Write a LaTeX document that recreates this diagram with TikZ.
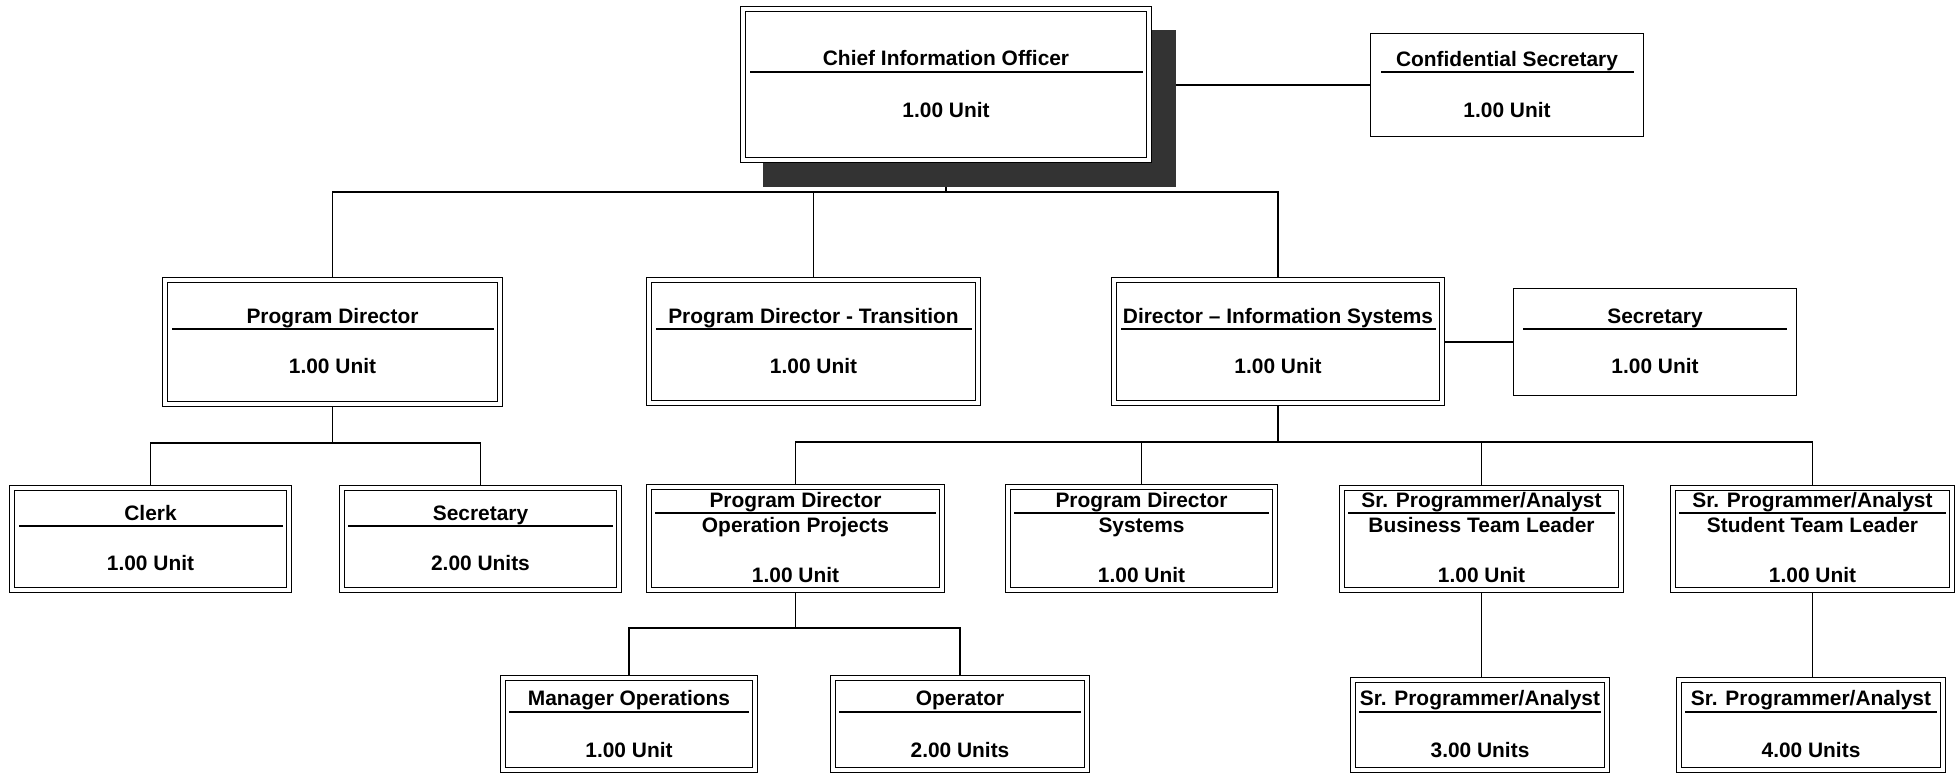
\documentclass[tikz,border=0pt]{standalone}
\usepackage{fontspec}
\setmainfont{Liberation Sans}
\usetikzlibrary{backgrounds}

\tikzset{
  dbox/.style={draw, double, double distance=2pt, line width=0.7pt, fill=white, inner sep=0pt},
  sbox/.style={draw, line width=0.8pt, fill=white, inner sep=0pt},
  txt/.style={anchor=base, inner sep=0pt, font=\fontsize{11.9}{14}\selectfont\bfseries},
  rulel/.style={line width=0.6pt},
  link/.style={line width=0.7pt},
  shade/.style={fill=black!80},
}

\begin{document}
\begin{tikzpicture}[x=0.02cm, y=-0.02cm]
        \useasboundingbox (0,0) rectangle (1960,775);

        % top row
        \node[dbox, minimum width=8.12cm, minimum height=3.02cm] (cio) at (946,84.5) {};
        \node[txt] (cio-t) at (946,65) {Chief Information Officer};
        \draw[rulel] (750,72) -- (1143,72);
        \node[txt] (cio-u) at (946,117) {1.00 Unit};

        \node[sbox, minimum width=5.46cm, minimum height=2.06cm] (conf) at (1507,85) {};
        \node[txt] (conf-t) at (1507,66) {Confidential Secretary};
        \draw[rulel] (1381,72) -- (1634,72);
        \node[txt] (conf-u) at (1507,117) {1.00 Unit};

        % second row
        \node[dbox, minimum width=6.70cm, minimum height=2.48cm] (pd) at (332.5,342) {};
        \node[txt] (pd-t) at (332.5,323) {Program Director};
        \draw[rulel] (172,329) -- (494,329);
        \node[txt] (pd-u) at (332.5,373) {1.00 Unit};

        \node[dbox, minimum width=6.58cm, minimum height=2.46cm] (pdt) at (813.5,341.5) {};
        \node[txt] (pdt-t) at (813.5,323) {Program Director - Transition};
        \draw[rulel] (656,329) -- (972,329);
        \node[txt] (pdt-u) at (813.5,373) {1.00 Unit};

        \node[dbox, minimum width=6.56cm, minimum height=2.46cm] (dis) at (1278,341.5) {};
        \node[txt] (dis-t) at (1278,323) {Director – Information Systems};
        \draw[rulel] (1121,329) -- (1436,329);
        \node[txt] (dis-u) at (1278,373) {1.00 Unit};

        \node[sbox, minimum width=5.66cm, minimum height=2.14cm] (sec) at (1655,342) {};
        \node[txt] (sec-t) at (1655,323) {Secretary};
        \draw[rulel] (1523,329) -- (1787,329);
        \node[txt] (sec-u) at (1655,373) {1.00 Unit};

        % third row
        \node[dbox, minimum width=5.54cm, minimum height=2.04cm] (clerk) at (150.5,539) {};
        \node[txt] (clerk-t) at (150.5,520) {Clerk};
        \draw[rulel] (19,526) -- (283,526);
        \node[txt] (clerk-u) at (150.5,570) {1.00 Unit};

        \node[dbox, minimum width=5.54cm, minimum height=2.04cm] (sec2) at (480.5,539) {};
        \node[txt] (sec2-t) at (480.5,520) {Secretary};
        \draw[rulel] (348,526) -- (613,526);
        \node[txt] (sec2-u) at (480.5,570) {2.00 Units};

        \node[dbox, minimum width=5.86cm, minimum height=2.06cm] (pdop) at (795.5,538.5) {};
        \node[txt] (pdop-t) at (795.5,507) {Program Director};
        \draw[rulel] (655,513) -- (936,513);
        \node[txt] (pdop-s) at (795.5,532) {Operation Projects};
        \node[txt] (pdop-u) at (795.5,582) {1.00 Unit};

        \node[dbox, minimum width=5.34cm, minimum height=2.06cm] (pds) at (1141.5,538.5) {};
        \node[txt] (pds-t) at (1141.5,507) {Program Director};
        \draw[rulel] (1014,513) -- (1269,513);
        \node[txt] (pds-s) at (1141.5,532) {Systems};
        \node[txt] (pds-u) at (1141.5,582) {1.00 Unit};

        \node[dbox, minimum width=5.58cm, minimum height=2.04cm] (spab) at (1481.5,539) {};
        \node[txt] (spab-t) at (1481.5,507) {Sr. Programmer/Analyst};
        \draw[rulel] (1348,513) -- (1615,513);
        \node[txt] (spab-s) at (1481.5,532) {Business Team Leader};
        \node[txt] (spab-u) at (1481.5,582) {1.00 Unit};

        \node[dbox, minimum width=5.58cm, minimum height=2.04cm] (spas) at (1812.5,539) {};
        \node[txt] (spas-t) at (1812.5,507) {Sr. Programmer/Analyst};
        \draw[rulel] (1679,513) -- (1946,513);
        \node[txt] (spas-s) at (1812.5,532) {Student Team Leader};
        \node[txt] (spas-u) at (1812.5,582) {1.00 Unit};

        % bottom row
        \node[dbox, minimum width=5.04cm, minimum height=1.84cm] (mo) at (629,724) {};
        \node[txt] (mo-t) at (629,705) {Manager Operations};
        \draw[rulel] (509,712) -- (749,712);
        \node[txt] (mo-u) at (629,757) {1.00 Unit};

        \node[dbox, minimum width=5.08cm, minimum height=1.84cm] (op) at (960,724) {};
        \node[txt] (op-t) at (960,705) {Operator};
        \draw[rulel] (839,712) -- (1081,712);
        \node[txt] (op-u) at (960,757) {2.00 Units};

        \node[dbox, minimum width=5.08cm, minimum height=1.80cm] (spa3) at (1480,725) {};
        \node[txt] (spa3-t) at (1480,705) {Sr. Programmer/Analyst};
        \draw[rulel] (1359,712) -- (1601,712);
        \node[txt] (spa3-u) at (1480,757) {3.00 Units};

        \node[dbox, minimum width=5.28cm, minimum height=1.80cm] (spa4) at (1811,725) {};
        \node[txt] (spa4-t) at (1811,705) {Sr. Programmer/Analyst};
        \draw[rulel] (1685,712) -- (1937,712);
        \node[txt] (spa4-u) at (1811,757) {4.00 Units};

        \begin{scope}[on background layer]
        \coordinate (cbus) at (947,192);
        \coordinate (pdbus) at (332.5,443);
        \coordinate (disbus) at (1278,442);
        \coordinate (opbus) at (795.5,628);

        \draw[link] (cio.east |- conf.west) -- (conf.west);
        \draw[link] (cio.south) -- (cio.south |- cbus);
        \draw[link] (pd.north) |- (cbus) -| (dis.north);
        \draw[link] (pdt.north) -- (pdt.north |- cbus);

        \draw[link] (dis.east |- sec.west) -- (sec.west);
        \draw[link] (pd.south) -- (pdbus);
        \draw[link] (clerk.north) |- (pdbus) -| (sec2.north);

        \draw[link] (dis.south) -- (disbus);
        \draw[link] (pdop.north) |- (disbus) -| (spas.north);
        \draw[link] (pds.north) -- (pds.north |- disbus);
        \draw[link] (spab.north) -- (spab.north |- disbus);

        \draw[link] (pdop.south) -- (opbus);
        \draw[link] (mo.north) |- (opbus) -| (op.north);
        \draw[link] (spab.south) -- (spab.south |- spa3.north);
        \draw[link] (spas.south) -- (spas.south |- spa4.north);

        % shadow of the top box
        \fill[shade] (763,30) rectangle (1176,187);
        \end{scope}
\end{tikzpicture}
\end{document}
